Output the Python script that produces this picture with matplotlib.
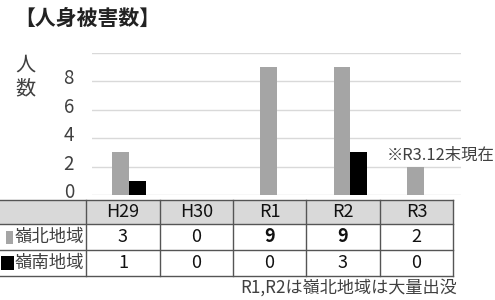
import numpy as np
import matplotlib
matplotlib.use("Agg")
import matplotlib.pyplot as plt
from matplotlib.transforms import ScaledTranslation

plt.rcParams["font.family"] = ["Noto Sans CJK JP", "DejaVu Sans"]

# Donnees
categories = ["H29", "H30", "R1", "R2", "R3"]
reihoku = [3, 0, 9, 9, 2]
reinan = [1, 0, 0, 3, 0]
series_names = ["嶺北地域", "嶺南地域"]
yticks = [0, 2, 4, 6, 8, 10]
ytick_labels = ["0", "2", "4", "6", "8", ""]
bold_cats = ["R1", "R2"]

GRAY = "#a5a5a5"
BLACK = "#000000"
TXT = "#404040"
W, H = 495, 300

fig = plt.figure(figsize=(W / 100, H / 100), dpi=100)

# zone graphique (px -> fraction)
def box(x0, y0, x1, y1):
    return [x0 / W, 1 - y1 / H, (x1 - x0) / W, (y1 - y0) / H]

ax = fig.add_axes(box(92, 53, 461, 195))
x = np.arange(len(categories))
bw = 0.225
ax.bar(x - bw / 2, reihoku, bw, color=GRAY, zorder=3)
ax.bar(x + bw / 2, reinan, bw, color=BLACK, zorder=3)
ax.set_xlim(-0.5, len(categories) - 0.5)
ax.set_ylim(0, 10)
ax.set_yticks(yticks)
ax.set_yticklabels(ytick_labels, fontsize=13.5, color=TXT)
ax.tick_params(axis="y", length=0, pad=13)
ax.set_xticks([])
ax.grid(axis="y", color="#d9d9d9", lw=1, zorder=0)
for s in ax.spines.values():
    s.set_visible(False)
for lab in ax.get_yticklabels():
    lab.set_transform(lab.get_transform() + ScaledTranslation(0, 0.05, fig.dpi_scale_trans))

# calque en pixels pour titre + tableau
ov = fig.add_axes([0, 0, 1, 1], zorder=5)
ov.set_xlim(0, W)
ov.set_ylim(H, 0)
ov.axis("off")
ov.patch.set_alpha(0)

ov.text(14, 18, "【人身被害数】", fontsize=15, fontweight="bold", color="#222222",
        va="center", ha="left")
ov.text(25, 65, "人", fontsize=14.5, color=TXT, ha="center", va="center")
ov.text(25, 89, "数", fontsize=14.5, color=TXT, ha="center", va="center")
ov.text(495, 155, "※R3.12末現在", fontsize=11.8, color=TXT, ha="right", va="center")
ov.text(457, 288, "R1,R2は嶺北地域は大量出没", fontsize=12.3, color=TXT, ha="right", va="center")

# tableau
col_x = [0, 86, 160, 233, 306, 380, 453]
row_y = [200, 224, 250, 276]
ov.add_patch(plt.Rectangle((0, row_y[0]), col_x[-1], row_y[1] - row_y[0],
                           facecolor="#d9d9d9", edgecolor="none", zorder=1))
LC = "#555555"
for yy in row_y:
    ov.plot([0, col_x[-1]], [yy, yy], color=LC, lw=1, zorder=2)
for xx in col_x[1:]:
    ov.plot([xx, xx], [row_y[0], row_y[-1]], color=LC, lw=1, zorder=2)

for i, c in enumerate(categories):
    cx = (col_x[i + 1] + col_x[i + 2]) / 2
    ov.text(cx, (row_y[0] + row_y[1]) / 2, c, fontsize=13, color="#111111",
            ha="center", va="center", zorder=3)
    fw = "bold" if c in bold_cats else "normal"
    ov.text(cx, (row_y[1] + row_y[2]) / 2, str(reihoku[i]), fontsize=13,
            color="#111111", ha="center", va="center", fontweight=fw, zorder=3)
    ov.text(cx, (row_y[2] + row_y[3]) / 2, str(reinan[i]), fontsize=13,
            color="#111111", ha="center", va="center", zorder=3)

# legende dans le tableau
ov.add_patch(plt.Rectangle((6, 231), 7, 13, facecolor=GRAY, edgecolor="none", zorder=3))
ov.text(15, (row_y[1] + row_y[2]) / 2, series_names[0], fontsize=12.5, color=TXT,
        ha="left", va="center", zorder=3)
ov.add_patch(plt.Rectangle((1, 256), 13, 14, facecolor=BLACK, edgecolor="none", zorder=3))
ov.text(15, (row_y[2] + row_y[3]) / 2, series_names[1], fontsize=12.5, color=TXT,
        ha="left", va="center", zorder=3)

fig.savefig("out.png", dpi=100)
